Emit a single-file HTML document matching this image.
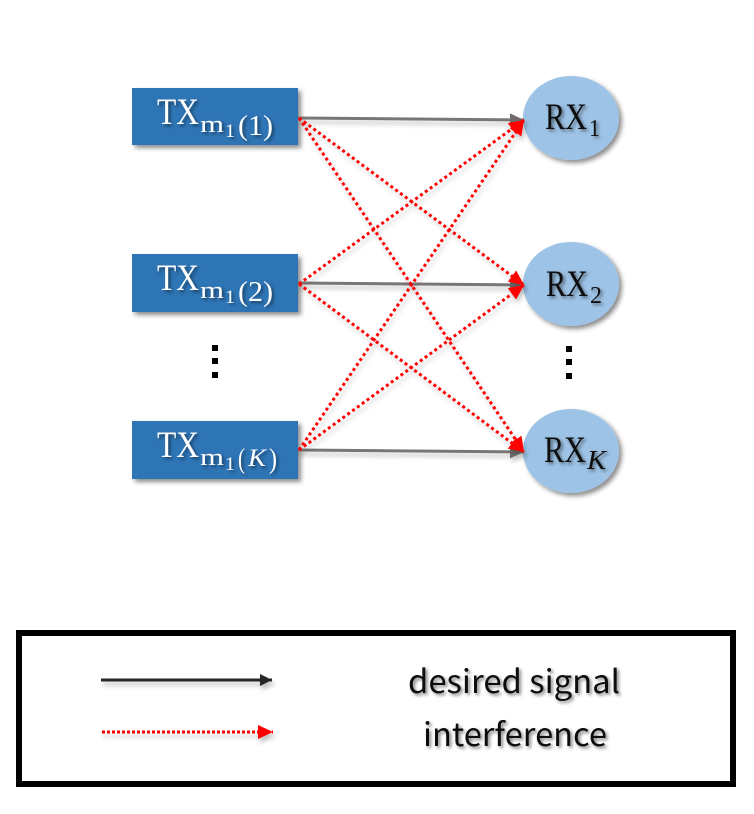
<!DOCTYPE html>
<html>
<head>
<meta charset="utf-8">
<style>
html,body{margin:0;padding:0;background:#fff;width:754px;height:814px;overflow:hidden}
svg{display:block}
.serif{font-family:"Liberation Serif","DejaVu Serif",serif}
.sans{font-family:"Noto Sans CJK SC","Liberation Sans",sans-serif}
</style>
</head>
<body>
<svg width="754" height="814" viewBox="0 0 754 814" xmlns="http://www.w3.org/2000/svg">
<defs>
<filter id="sh" x="-20%" y="-30%" width="150%" height="170%"><feDropShadow dx="3" dy="3" stdDeviation="2.5" flood-color="#000" flood-opacity="0.45"/></filter>
<filter id="ls" x="-10%" y="-10%" width="120%" height="125%" filterUnits="objectBoundingBox"><feDropShadow dx="2" dy="4" stdDeviation="2.5" flood-color="#000" flood-opacity="0.22"/></filter>
<filter id="ts" x="-10%" y="-20%" width="120%" height="150%"><feDropShadow dx="2" dy="2" stdDeviation="1.6" flood-color="#000" flood-opacity="0.5"/></filter>
<marker id="ag" markerUnits="userSpaceOnUse" markerWidth="16" markerHeight="14" refX="14" refY="6.5" orient="auto"><path d="M0 0L14 6.5L0 13Z" fill="#6f6b6b"/></marker>
<marker id="ar" markerUnits="userSpaceOnUse" markerWidth="18" markerHeight="16" refX="15" refY="7" orient="auto"><path d="M0 0L15 7L0 14Z" fill="#ff0000"/></marker>
<marker id="ak" markerUnits="userSpaceOnUse" markerWidth="14" markerHeight="14" refX="12" refY="6" orient="auto"><path d="M0 0L12 6L0 12Z" fill="#262626"/></marker>
</defs>

<!-- nodes -->
<g fill="#2e75b6" filter="url(#sh)">
<rect x="132" y="88" width="166" height="57"/>
<rect x="132" y="254" width="166" height="58"/>
<rect x="132" y="421" width="166" height="58"/>
</g>
<g fill="#9dc3e6" filter="url(#sh)">
<ellipse cx="571" cy="118" rx="48" ry="42"/>
<ellipse cx="571" cy="284" rx="48" ry="42"/>
<ellipse cx="571" cy="451" rx="48" ry="42"/>
</g>

<!-- desired -->
<g stroke="#7a7676" stroke-width="3" fill="none" filter="url(#ls)">
<line x1="298" y1="118" x2="524" y2="120" marker-end="url(#ag)"/>
<line x1="298" y1="283" x2="524" y2="285" marker-end="url(#ag)"/>
<line x1="298" y1="450" x2="524" y2="452" marker-end="url(#ag)"/>
</g>

<!-- interference -->
<g stroke="#ff0000" stroke-width="3" stroke-dasharray="3 3" fill="none" filter="url(#ls)">
<line x1="299" y1="118" x2="524" y2="285" marker-end="url(#ar)"/>
<line x1="299" y1="118" x2="524" y2="452" marker-end="url(#ar)"/>
<line x1="299" y1="284" x2="524" y2="120" marker-end="url(#ar)"/>
<line x1="299" y1="284" x2="524" y2="452" marker-end="url(#ar)"/>
<line x1="299" y1="450" x2="524" y2="120" marker-end="url(#ar)"/>
<line x1="299" y1="450" x2="524" y2="285" marker-end="url(#ar)"/>
</g>

<!-- TX labels -->
<g class="serif" fill="#fff" filter="url(#ts)">
<text x="157" y="124" font-size="37" textLength="42" lengthAdjust="spacingAndGlyphs">TX</text>
<text x="200" y="132" font-size="24" textLength="24" lengthAdjust="spacingAndGlyphs">m</text>
<text x="225" y="137" font-size="19" textLength="10" lengthAdjust="spacingAndGlyphs">1</text>
<text x="238" y="135" font-size="29" textLength="35" lengthAdjust="spacingAndGlyphs">(1)</text>

<text x="157" y="290" font-size="37" textLength="42" lengthAdjust="spacingAndGlyphs">TX</text>
<text x="200" y="298" font-size="24" textLength="24" lengthAdjust="spacingAndGlyphs">m</text>
<text x="225" y="303" font-size="19" textLength="10" lengthAdjust="spacingAndGlyphs">1</text>
<text x="238" y="301" font-size="29" textLength="35" lengthAdjust="spacingAndGlyphs">(2)</text>

<text x="157" y="457" font-size="37" textLength="42" lengthAdjust="spacingAndGlyphs">TX</text>
<text x="200" y="465" font-size="24" textLength="24" lengthAdjust="spacingAndGlyphs">m</text>
<text x="225" y="470" font-size="19" textLength="10" lengthAdjust="spacingAndGlyphs">1</text>
<text x="238" y="468" font-size="29" textLength="7" lengthAdjust="spacingAndGlyphs">(</text>
<text x="248" y="466" font-size="25" font-style="italic" textLength="18" lengthAdjust="spacingAndGlyphs">K</text>
<text x="269" y="468" font-size="29" textLength="8" lengthAdjust="spacingAndGlyphs">)</text>
</g>

<!-- RX labels -->
<g class="serif" fill="#111" filter="url(#ts)">
<text x="545" y="129" font-size="37" textLength="42" lengthAdjust="spacingAndGlyphs">RX</text>
<text x="589" y="136" font-size="24" textLength="11" lengthAdjust="spacingAndGlyphs">1</text>
<text x="546" y="296" font-size="37" textLength="42" lengthAdjust="spacingAndGlyphs">RX</text>
<text x="590" y="303" font-size="24" textLength="12" lengthAdjust="spacingAndGlyphs">2</text>
<text x="544" y="462" font-size="37" textLength="42" lengthAdjust="spacingAndGlyphs">RX</text>
<text x="587" y="469" font-size="27" font-style="italic" textLength="19" lengthAdjust="spacingAndGlyphs">K</text>
</g>

<!-- ellipsis dots -->
<g fill="#000">
<rect x="212" y="345" width="6" height="6"/>
<rect x="212" y="358" width="6" height="6"/>
<rect x="212" y="372" width="6" height="6"/>
<rect x="566" y="346" width="6" height="6"/>
<rect x="566" y="359" width="6" height="6"/>
<rect x="566" y="373" width="6" height="6"/>
</g>

<!-- legend -->
<rect x="19" y="633" width="714" height="151" fill="#fff" stroke="#000" stroke-width="6"/>
<g style="filter:drop-shadow(2px 4px 2.5px rgba(0,0,0,.25))">
<line x1="101" y1="680" x2="272" y2="680" stroke="#262626" stroke-width="3" marker-end="url(#ak)"/>
<line x1="102" y1="732" x2="273" y2="732" stroke="#ff0000" stroke-width="3" stroke-dasharray="3 2" marker-end="url(#ar)"/>
</g>
<g class="sans" fill="#111" font-size="32" filter="url(#ts)">
<text x="408" y="693" textLength="212" lengthAdjust="spacingAndGlyphs">desired signal</text>
<text x="423" y="746" textLength="184" lengthAdjust="spacingAndGlyphs">interference</text>
</g>
</svg>
</body>
</html>
